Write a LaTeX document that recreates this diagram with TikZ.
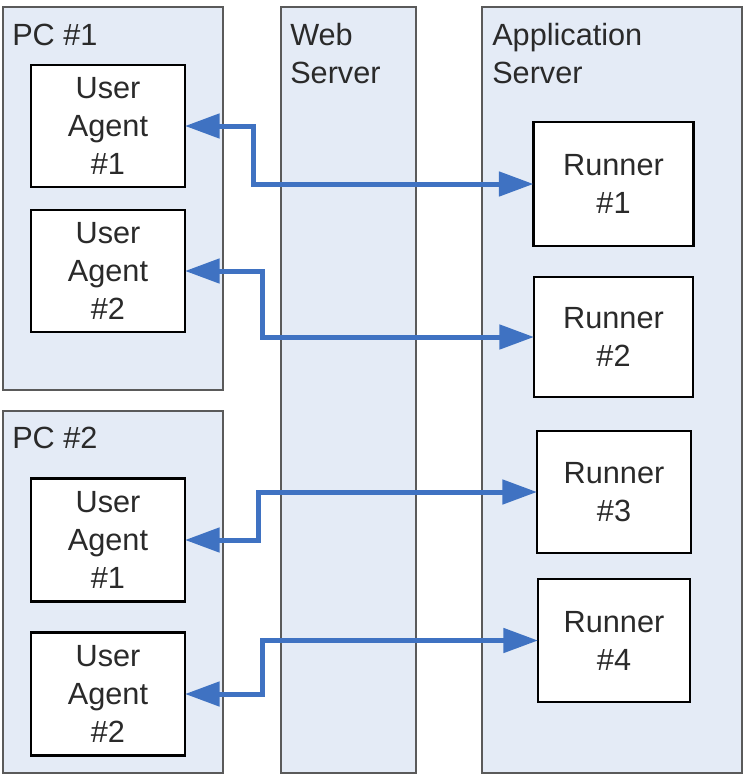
\documentclass[tikz,border=0pt]{standalone}
\usepackage{fontspec}
\setmainfont{Liberation Sans}
\usetikzlibrary{arrows.meta}
\definecolor{panelfill}{HTML}{E4EBF6}
\definecolor{panelline}{HTML}{5A5A5A}
\definecolor{linkblue}{HTML}{3F72C2}
\definecolor{txt}{HTML}{2A2A2A}
\begin{document}
\begin{tikzpicture}[x=0.75pt,y=-0.75pt,
  panel/.style={draw=panelline,fill=panelfill,line width=1.5pt,inner sep=0pt,outer sep=0pt,anchor=north west},
  box/.style={draw=black,fill=white,line width=1.9pt,inner sep=0pt,outer sep=0pt,align=center,
    text=txt,font=\fontsize{23}{28.5}\selectfont},
  lbl/.style={anchor=base west,inner sep=0pt,text=txt,font=\fontsize{23}{28.5}\selectfont},
  link/.style={draw=linkblue,line width=3.75pt,
    {Triangle[length=26pt,width=18pt]}-{Triangle[length=26pt,width=18pt]}}]
\useasboundingbox (0,0) rectangle (743,775);
% panels
\node[panel,minimum width=165pt,minimum height=287.25pt] (pc1) at (3,7) {};
\node[panel,minimum width=165pt,minimum height=271.5pt] (pc2) at (3,411) {};
\node[panel,minimum width=101.25pt,minimum height=574.5pt] (web) at (281,7) {};
\node[panel,minimum width=195pt,minimum height=574.5pt] (app) at (482,7) {};
% panel labels
\node[lbl] (pc1lbl) at (12,45) {PC \#1};
\node[lbl] (pc2lbl) at (12,448) {PC \#2};
\node[lbl] (weblbla) at (290,45) {Web};
\node[lbl] (weblblb) at (290,83) {Server};
\node[lbl] (applbla) at (492,45) {Application};
\node[lbl] (applblb) at (492,83) {Server};
% user agents
\node[box,minimum width=115.5pt,minimum height=91.5pt] (ua1) at (108,126) {User\\Agent\\\#1};
\node[box,minimum width=115.5pt,minimum height=91.5pt] (ua2) at (108,271) {User\\Agent\\\#2};
\node[box,minimum width=115.5pt,minimum height=92.25pt] (ua3) at (108,540) {User\\Agent\\\#1};
\node[box,minimum width=115.5pt,minimum height=92.25pt] (ua4) at (108,694) {User\\Agent\\\#2};
% runners
\node[box,minimum width=120pt,minimum height=93pt] (r1) at (613.5,184) {Runner\\\#1};
\node[box,minimum width=119.25pt,minimum height=90pt] (r2) at (613.5,337) {Runner\\\#2};
\node[box,minimum width=115.5pt,minimum height=91.5pt] (r3) at (614,492) {Runner\\\#3};
\node[box,minimum width=114pt,minimum height=92.25pt] (r4) at (614,640.5) {Runner\\\#4};
% bend columns
\coordinate (v1) at (253,0);
\coordinate (v2) at (262,0);
\coordinate (v3) at (258,0);
\coordinate (v4) at (262,0);
% links
\draw[link] (ua1.east) -- (ua1.east -| v1) |- (r1.west);
\draw[link] (ua2.east) -- (ua2.east -| v2) |- (r2.west);
\draw[link] (ua3.east) -- (ua3.east -| v3) |- (r3.west);
\draw[link] (ua4.east) -- (ua4.east -| v4) |- (r4.west);
\end{tikzpicture}
\end{document}
